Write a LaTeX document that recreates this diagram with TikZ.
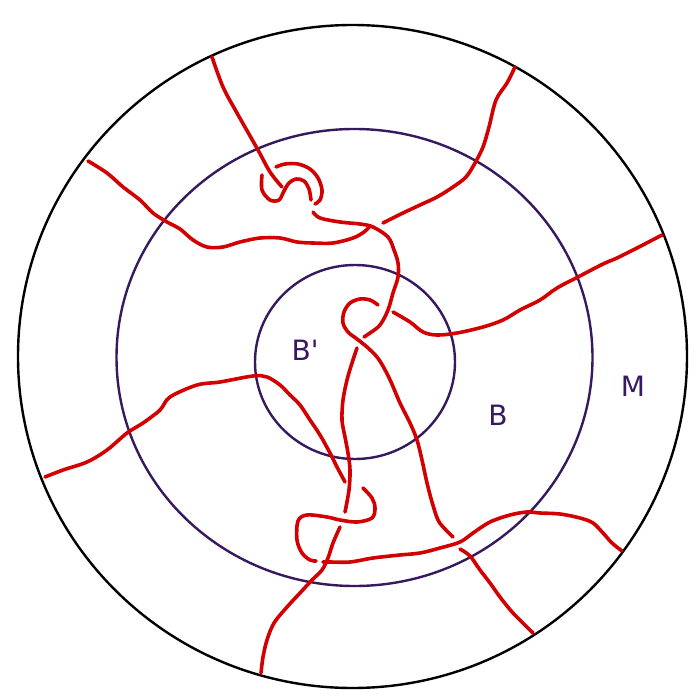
\documentclass[tikz,border=0pt]{standalone}
\usepackage{fontspec}
\setmainfont{DejaVu Sans}
\definecolor{knotred}{RGB}{210,0,0}
\definecolor{ballpurple}{RGB}{55,25,95}
\begin{document}
\begin{tikzpicture}[x=1pt,y=-1pt,
  strand/.style={draw=knotred, line width=3.6pt, line cap=round, line join=round},
  ballline/.style={draw=ballpurple, line width=2.4pt},
  lab/.style={text=ballpurple, font=\fontsize{28}{28}\selectfont, inner sep=0pt}]
\useasboundingbox (0,0) rectangle (700,700);
\fill[white] (0,0) rectangle (700,700);
% balls
\draw[black, line width=2.4pt] (352.5,356.5) ellipse [x radius=334.5pt, y radius=331.5pt];
\draw[ballline] (354.5,357.5) ellipse [x radius=238pt, y radius=228.5pt];
\draw[ballline] (355,362) ellipse [x radius=100pt, y radius=97pt];
% labels
\node[lab] (Bp) at (305,350) {B\textquotesingle};
\node[lab] (B) at (498,415) {B};
\node[lab] (M) at (633,386) {M};
% strands
\draw[strand] plot[smooth, tension=0.55] coordinates {(212,57) (223,87) (237,113) (258,150) (270,172) (282,187)};
\draw[strand] plot[smooth, tension=0.55] coordinates {(262,175) (262,190) (270,200) (279,200) (284,191) (289,183) (296,179) (304,181) (309,189) (311,200)};
\draw[strand] plot[smooth, tension=0.55] coordinates {(276,167) (285,164) (298,164) (310,169) (318,178) (322,190) (320,200) (315,204)};
\draw[strand] plot[smooth, tension=0.55] coordinates {(313,212) (320,218) (340,222) (360,224) (373,227) (388,237) (394,250) (398,263) (398,277) (393,293) (388,310) (380,325) (370,333) (364,337)};
\draw[strand] plot[smooth, tension=0.55] coordinates {(357,348) (352,363) (347,380) (343,400) (342,420) (345,437) (348,453) (350,470) (349,490) (345,512)};
\draw[strand] plot[smooth, tension=0.55] coordinates {(340,527) (333,543) (328,558) (322,570) (312,580) (300,593) (287,607) (274,623) (267,640) (263,657) (261,673)};
\draw[strand] plot[smooth, tension=0.55] coordinates {(88,161) (107,173) (123,187) (140,200) (153,213) (167,222) (180,229) (193,240) (207,247) (223,247) (240,242) (260,238) (280,238) (297,242) (313,243) (333,243) (353,238) (364,232) (370,226)};
\draw[strand] plot[smooth, tension=0.55] coordinates {(515,67) (507,83) (496,100) (489,127) (483,147) (475,163) (466,177) (453,187) (437,197) (420,205) (403,213) (383,223)};
\draw[strand] plot[smooth, tension=0.55] coordinates {(662,235) (637,248) (617,258) (603,264) (578,277) (557,288) (540,300) (520,310) (503,320) (483,327) (457,333) (437,335) (423,332) (410,322) (393,312)};
\draw[strand] plot[smooth, tension=0.55] coordinates {(378,305) (370,300) (360,299) (350,303) (344,312) (343,323) (348,332) (357,339) (367,347) (377,357) (384,368) (391,382) (400,403) (410,423) (417,440) (422,460) (427,483) (432,502) (438,520) (445,529) (453,537)};
\draw[strand] plot[smooth, tension=0.55] coordinates {(460,549) (470,556) (480,570) (490,583) (500,597) (513,613) (533,633)};
\draw[strand] plot[smooth, tension=0.55] coordinates {(45,477) (63,470) (87,462) (107,450) (127,433) (143,423) (160,410) (170,397) (197,385) (220,382) (253,376) (267,377) (280,385) (290,395) (300,405) (310,420) (320,435) (330,453) (337,467) (345,482)};
\draw[strand] plot[smooth, tension=0.55] coordinates {(363,488) (372,498) (375,508) (372,518) (357,522) (340,520) (327,517) (307,515) (298,521) (297,540) (302,553) (310,560) (316,561)};
\draw[strand] plot[smooth, tension=0.55] coordinates {(323,562) (330,562) (350,562) (373,558) (400,555) (420,553) (440,548) (460,542) (473,533) (490,522) (510,515) (527,512) (540,513) (560,514) (580,518) (593,523) (603,533) (612,543) (622,551)};
\end{tikzpicture}
\end{document}
